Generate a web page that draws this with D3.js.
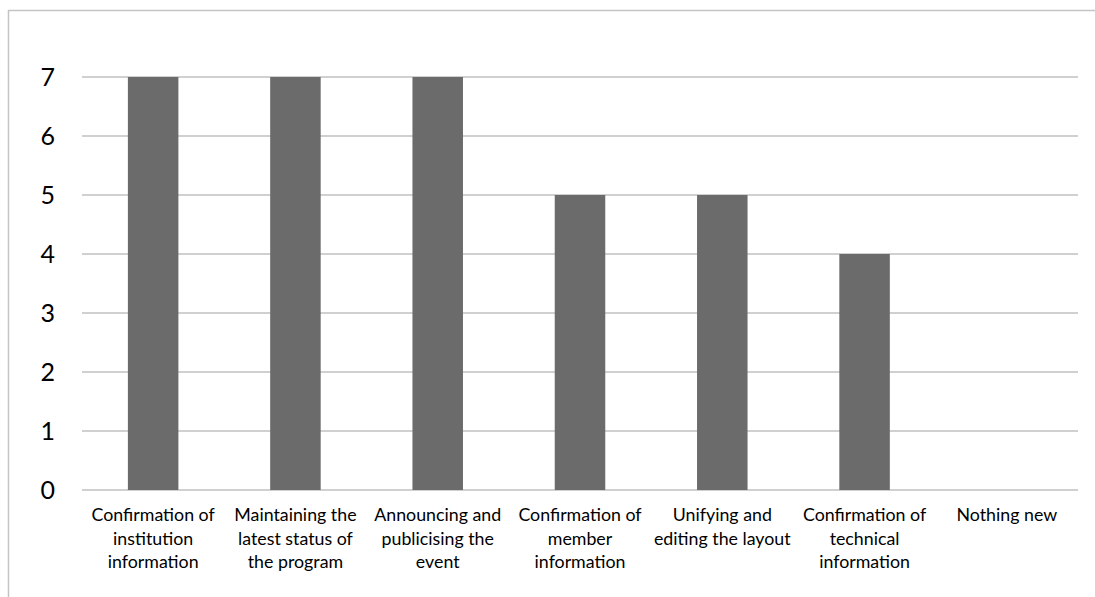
<!DOCTYPE html>
<html>
<head>
<meta charset="utf-8">
<script src="https://cdn.jsdelivr.net/npm/d3@7"></script>
<style>
  html, body { margin: 0; padding: 0; background: #fff; }
  svg { display: block; }
</style>
</head>
<body>
<svg id="chart" width="1095" height="597"></svg>
<script>
const categories = [
  "Confirmation of\ninstitution\ninformation",
  "Maintaining the\nlatest status of\nthe program",
  "Announcing and\npublicising the\nevent",
  "Confirmation of\nmember\ninformation",
  "Unifying and\nediting the layout",
  "Confirmation of\ntechnical\ninformation",
  "Nothing new"
];
const values = [7, 7, 7, 5, 5, 4, 0];
const yTicks = [0, 1, 2, 3, 4, 5, 6, 7];

(function () {
const svg = d3.select("#chart");
const W = 1095, H = 597;
const pl = 82, pr = 1078, pt = 77, pb = 490;

// outer frame (top and left visible)
svg.append("line").attr("x1", 8).attr("x2", W).attr("y1", 10.5).attr("y2", 10.5)
  .attr("stroke", "#c4c4c4").attr("stroke-width", 1.5);
svg.append("line").attr("x1", 8.5).attr("x2", 8.5).attr("y1", 10).attr("y2", H)
  .attr("stroke", "#c4c4c4").attr("stroke-width", 1.5);

const x = d3.scaleBand().domain(categories).range([pl, pr])
  .paddingInner(0.645).paddingOuter(0.3225);
const y = d3.scaleLinear().domain([0, 7]).range([pb, pt]);

// gridlines
svg.append("g").selectAll("line").data(yTicks).join("line")
  .attr("x1", pl).attr("x2", pr)
  .attr("y1", d => y(d)).attr("y2", d => y(d))
  .attr("stroke", "#c0c0c0").attr("stroke-width", 1.5);

// y-axis labels
const yAxis = d3.axisLeft(y).tickValues(yTicks).tickSize(0).tickPadding(0).tickFormat(d3.format("d"));
const yg = svg.append("g").attr("transform", `translate(55,0)`).call(yAxis);
yg.select(".domain").remove();
yg.selectAll("text").attr("font-family", "Lato, 'Open Sans', sans-serif")
  .attr("font-size", 25).attr("fill", "#000");

// bars
svg.append("g").selectAll("rect").data(values).join("rect")
  .attr("x", (d, i) => x(categories[i]))
  .attr("width", x.bandwidth())
  .attr("y", d => y(d))
  .attr("height", d => y(0) - y(d))
  .attr("fill", "#6b6b6b");

// category labels
const xAxis = d3.axisBottom(x).tickSize(0).tickFormat("");
const xg = svg.append("g").attr("transform", `translate(0,${pb})`).call(xAxis);
xg.select(".domain").remove();
xg.selectAll(".tick").each(function(d) {
  const t = d3.select(this).append("text")
    .attr("text-anchor", "middle")
    .attr("font-family", "Lato, 'Open Sans', sans-serif")
    .attr("font-size", 17.8)
    .attr("fill", "#000");
  d.split("\n").forEach((line, i) => {
    t.append("tspan").attr("x", 0).attr("y", 31 + i * 23.5).text(line);
  });
});
})();
</script>
</body>
</html>
